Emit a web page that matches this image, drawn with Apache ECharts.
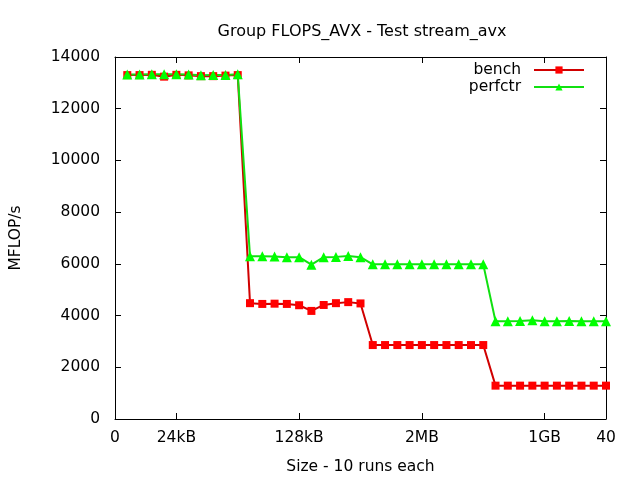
<!DOCTYPE html>
<html>
<head>
<meta charset="utf-8">
<script src="https://cdn.jsdelivr.net/npm/echarts@6/dist/echarts.min.js"></script>
<style>html,body{margin:0;padding:0;background:#fff;}#c{width:640px;height:480px;}</style>
</head>
<body>
<div id="c"></div>
<script>
var xValues = [1,2,3,4,5,6,7,8,9,10,11,12,13,14,15,16,17,18,19,20,21,22,23,24,25,26,27,28,29,30,31,32,33,34,35,36,37,38,39,40];
var benchValues = [13300,13300,13310,13240,13310,13290,13260,13260,13280,13300,
                   4480,4450,4460,4450,4400,4180,4410,4480,4520,4470,
                   2860,2860,2860,2860,2860,2860,2860,2860,2860,2860,
                   1290,1290,1290,1290,1290,1290,1290,1290,1290,1290];
var perfctrValues = [13320,13320,13330,13330,13330,13320,13290,13300,13300,13330,
                     6290,6290,6280,6260,6260,5970,6260,6270,6300,6260,
                     5980,5980,5980,5980,5980,5980,5980,5980,5980,5980,
                     3780,3780,3790,3820,3780,3780,3790,3780,3780,3780];
var xTickValues = [0,5,15,25,35,40];
var xTickLabels = ['0','24kB','128kB','2MB','1GB','40'];

function pairs(xs, ys){ return xs.map(function(x,i){ return [x, ys[i]]; }); }
var FONT = 'DejaVu Sans';
var FS = 15.5;
var chart = echarts.init(document.getElementById('c'), null, {renderer:'canvas'});
var labelMap = {};
xTickValues.forEach(function(v,i){ labelMap[v] = xTickLabels[i]; });
var axisLineStyle = {show:true, onZero:false, lineStyle:{color:'#000', width:1}};
chart.setOption({
  animation:false,
  backgroundColor:'#fff',
  title:{text:'Group FLOPS_AVX - Test stream_avx', left:357, top:19, textAlign:'center',
         textStyle:{fontFamily:FONT, fontSize:16, fontWeight:'normal', color:'#000'}},
  legend:{orient:'vertical', right:50, top:57, align:'right', itemWidth:50, itemHeight:9, itemGap:1,
          textStyle:{fontFamily:FONT, fontSize:FS, color:'#000', padding:[0,8,0,0]},
          data:['bench','perfctr']},
  grid:{left:112, right:34, top:57, bottom:61, containLabel:false},
  xAxis:[{type:'value', min:0, max:40, position:'bottom',
          name:'Size - 10 runs each', nameLocation:'middle', nameGap:40,
          nameTextStyle:{fontFamily:FONT, fontSize:FS, color:'#000'},
          axisLine:axisLineStyle,
          axisTick:{show:true, inside:true, length:6, customValues:xTickValues, lineStyle:{color:'#000'}},
          axisLabel:{fontFamily:FONT, fontSize:FS, color:'#000', margin:11, customValues:xTickValues,
                     formatter:function(v){ return labelMap[v] !== undefined ? labelMap[v] : ''; }},
          splitLine:{show:false}},
         {type:'value', min:0, max:40, position:'top',
          axisLine:axisLineStyle,
          axisTick:{show:true, inside:true, length:6, customValues:xTickValues, lineStyle:{color:'#000'}},
          axisLabel:{show:false}, splitLine:{show:false}}],
  yAxis:[{type:'value', min:0, max:14000, interval:2000, position:'left',
          name:'MFLOP/s', nameLocation:'middle', nameGap:91, nameRotate:90,
          nameTextStyle:{fontFamily:FONT, fontSize:FS, color:'#000'},
          axisLine:axisLineStyle,
          axisTick:{show:true, inside:true, length:6, lineStyle:{color:'#000'}},
          axisLabel:{fontFamily:FONT, fontSize:FS, color:'#000', margin:15,
                     formatter:function(v){ return String(v); }},
          splitLine:{show:false}},
         {type:'value', min:0, max:14000, interval:2000, position:'right',
          axisLine:axisLineStyle,
          axisTick:{show:true, inside:true, length:6, lineStyle:{color:'#000'}},
          axisLabel:{show:false}, splitLine:{show:false}}],
  series:[
    {name:'bench', type:'line', data:pairs(xValues, benchValues), symbol:'rect', symbolSize:8,
     showAllSymbol:true,
     itemStyle:{color:'#ff0000'}, lineStyle:{color:'#d00000', width:2}},
    {name:'perfctr', type:'line', data:pairs(xValues, perfctrValues), symbol:'triangle', symbolSize:10,
     showAllSymbol:true,
     itemStyle:{color:'#00ff00'}, lineStyle:{color:'#11e011', width:2}}
  ]
});
</script>
</body>
</html>
